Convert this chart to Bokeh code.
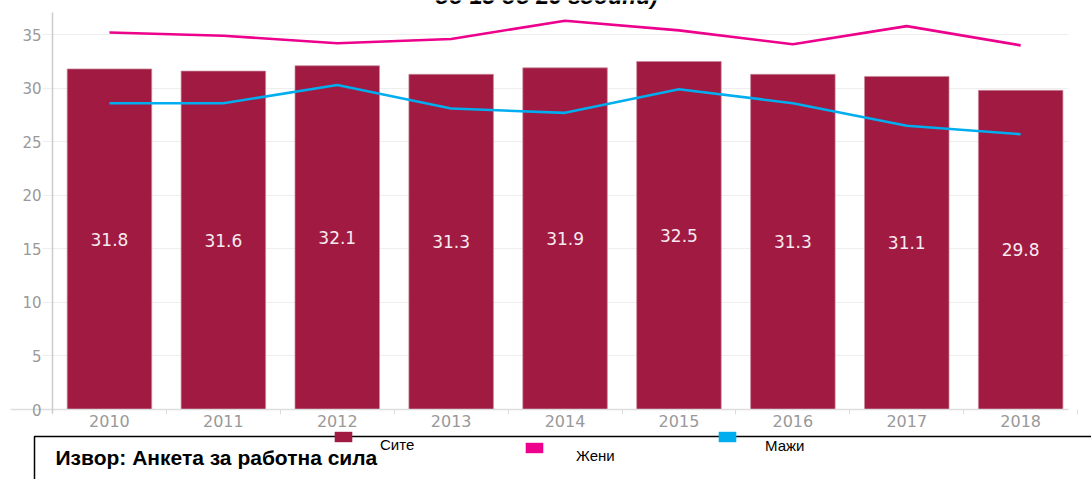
from bokeh.plotting import figure
from bokeh.models import (Range1d, FixedTicker, Legend, LegendItem, Label,
                          ColumnDataSource)
from bokeh.embed import file_html
from bokeh.resources import INLINE
from bokeh.core.properties import value

# ---- data ----
years = ["2010", "2011", "2012", "2013", "2014", "2015", "2016", "2017", "2018"]
site = [31.8, 31.6, 32.1, 31.3, 31.9, 32.5, 31.3, 31.1, 29.8]   # Сите
zeni = [35.2, 34.9, 34.2, 34.6, 36.3, 35.4, 34.1, 35.8, 34.0]   # Жени
mazi = [28.6, 28.6, 30.3, 28.1, 27.7, 29.9, 28.6, 26.5, 25.7]   # Мажи
y_ticks = [0, 5, 10, 15, 20, 25, 30, 35]
series_names = ["Сите", "Жени", "Мажи"]
title_text = "од 15 до 29 години)"
source_text = "Извор: Анкета за работна сила"

BAR = "#A01A42"
PINK = "#EC008C"
BLUE = "#00AEEF"
GREY_TXT = "#999999"

# ---- layout constants (pixels) ----
W, H = 1091, 479
PL, PR, PT, PB = 52, 1068, 12, 409      # plotting area inside the canvas
Y_TOP = 37.07

n = len(years)
x_end = n - 0.08
xpp = x_end / (PR - PL)                 # data units per pixel (x)
ypp = Y_TOP / (PB - PT)                 # data units per pixel (y)

xs = [i + 0.5 for i in range(n)]
src = ColumnDataSource(dict(
    x=xs, site=site, zeni=zeni, mazi=mazi,
    half=[v / 2 for v in site],
    lbl=[f"{v:.1f}" for v in site],
))

p = figure(width=W, height=H, output_backend="svg", toolbar_location=None,
           x_range=Range1d(-PL * xpp, (W - PL) * xpp),
           y_range=Range1d(-(H - PB) * ypp, PB * ypp),
           min_border=0)
p.outline_line_color = None
p.background_fill_color = "white"
p.border_fill_color = "white"

bars = p.vbar(x="x", top="site", bottom=0, width=0.742, source=src,
              fill_color=BAR, line_color="#c98a9c", line_width=0.7)
p.line("x", "zeni", source=src, line_color=PINK, line_width=2.6)
p.line("x", "mazi", source=src, line_color=BLUE, line_width=2.6)
p.text(x="x", y="half", text="lbl", source=src, text_align="center",
       text_baseline="middle", text_color="#f7eaf0",
       text_font=value("DejaVu Sans"), text_font_size="17px")

# ---- axes drawn at fixed positions inside the canvas ----
xa = p.xaxis[0]
xa.fixed_location = 0
xa.bounds = (-42 * xpp, x_end)
xa.ticker = FixedTicker(ticks=xs, minor_ticks=list(range(n + 1)))
xa.major_label_overrides = {x: y for x, y in zip(xs, years)}
xa.major_tick_line_color = None
xa.major_tick_out = 0
xa.major_tick_in = 0
xa.minor_tick_out = 5
xa.minor_tick_in = 0
xa.minor_tick_line_color = "#dddddd"
xa.axis_line_color = "#dddddd"
xa.axis_line_width = 1.5
xa.major_label_standoff = 0
xa.major_label_text_color = GREY_TXT
xa.major_label_text_font = "DejaVu Sans"
xa.major_label_text_font_size = "16px"

ya = p.yaxis[0]
ya.fixed_location = 0
ya.bounds = (-4 * ypp, Y_TOP)
ya.ticker = FixedTicker(ticks=y_ticks)
ya.major_tick_line_color = None
ya.minor_tick_line_color = None
ya.major_tick_out = 0
ya.major_tick_in = 0
ya.axis_line_color = "#cccccc"
ya.axis_line_width = 1.5
ya.major_label_standoff = 11
ya.major_label_text_color = GREY_TXT
ya.major_label_text_font = "DejaVu Sans"
ya.major_label_text_font_size = "15px"

p.xgrid.grid_line_color = None
yg = p.ygrid[0]
yg.ticker = FixedTicker(ticks=y_ticks)
yg.grid_line_color = "#eeeeee"
yg.grid_line_width = 1
if "cross_bounds" in yg.properties():
    yg.cross_bounds = (-10 * xpp, x_end)

# ---- title, cut off at the top edge as in the original ----
p.add_layout(Label(x=546, y=H + 5, x_units="screen", y_units="screen",
                   text=title_text, text_align="center",
                   text_baseline="alphabetic", text_font="Liberation Sans",
                   text_font_style="bold italic", text_font_size="23px",
                   text_color="black"))

# ---- source box ----
p.add_layout(Label(x=34, y=H - 436, x_units="screen", y_units="screen",
                   text=source_text, text_align="left",
                   text_baseline="top", text_font="Liberation Sans",
                   text_font_style="bold", text_font_size="21px",
                   text_color="black", border_line_color="black",
                   border_line_width=1.5,
                   padding=dict(left=21, right=900, top=9, bottom=60),
                   background_fill_color=None))

# ---- legends (zero-size renderers only provide the square swatches) ----
swatch_colors = [BAR, PINK, BLUE]
swatches = [p.vbar(x=[0], top=[0], bottom=[0], width=0, fill_color=c,
                   line_color=None) for c in swatch_colors]

SWATCH_CY = 439.5        # vertical centre of the swatches


def make_legend(label, rend, left, standoff, drop):
    # the label sits `drop` px lower than its swatch: an empty first line,
    # with a tuned line height, pushes it down
    line_h = 2 * drop / 9.0
    block = max(23, 17.5 + 2 * drop)
    lg = Legend(items=[LegendItem(label="\n" + label, renderers=[rend])],
                location=(left, H - SWATCH_CY - block / 2),
                orientation="horizontal",
                glyph_width=22, glyph_height=13, label_height=23,
                label_standoff=standoff, padding=0, margin=0, spacing=0,
                border_line_color=None, background_fill_alpha=0,
                label_text_font="Liberation Sans", label_text_font_size="15px",
                label_text_line_height=line_h, label_text_color="black")
    p.add_layout(lg)


make_legend(series_names[0], swatches[0], 332, 26, 5.2)
make_legend(series_names[1], swatches[1], 523, 31, 16)
make_legend(series_names[2], swatches[2], 716, 27, 5.5)

open("out.html", "w").write(file_html(p, INLINE))
